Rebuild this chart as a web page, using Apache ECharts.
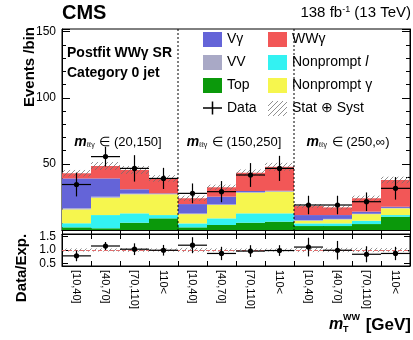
<!DOCTYPE html>
<html><head><meta charset="utf-8">
<script src="https://cdn.jsdelivr.net/npm/echarts@6/dist/echarts.min.js"></script>
<style>html,body{margin:0;padding:0;background:#fff}#c{width:413px;height:340px}</style>
</head><body><div id="c"></div>
<script>
const categories = ['[10,40]','[40,70]','[70,110]','110<','[10,40]','[40,70]','[70,110]','110<','[10,40]','[40,70]','[70,110]','110<'];
const topBkg       = [2.0, 1.3, 5.5, 8.8, 2.0, 3.8, 5.5, 6.3, 3.0, 3.0, 4.5, 10.0];
const nonpromptLep = [3.1, 10.0, 7.1, 2.5, 3.0, 5.0, 7.1, 6.3, 2.0, 2.0, 2.5, 1.3];
const nonpromptPho = [10.5, 13.1, 14.4, 15.7, 7.0, 10.1, 15.6, 16.4, 2.0, 3.0, 5.0, 5.1];
const vv           = [0.8, 0.8, 0.5, 0.3, 0.5, 0.5, 0.4, 0.3, 0.4, 0.4, 0.3, 0.3];
const vgamma       = [22.6, 13.8, 3.3, 0.4, 7.1, 5.8, 0.9, 0.4, 3.9, 2.9, 1.6, 0.9];
const wwgamma      = [3.9, 9.4, 14.6, 11.3, 4.4, 7.1, 13.8, 18.1, 6.8, 5.8, 10.1, 20.2];
const dataVals     = [34.4, 55.5, 46.6, 39.0, 27.7, 29.0, 41.6, 46.6, 18.9, 18.9, 21.4, 31.5];
const dataErr      = [9.0, 7.5, 10.0, 8.0, 7.5, 8.0, 9.0, 9.5, 7.0, 7.0, 7.0, 8.5];
const bandErr      = [2.5, 3.0, 3.0, 2.5, 2.0, 2.0, 2.5, 3.0, 1.5, 1.5, 2.0, 2.5];
const ratioVals    = [0.78, 1.15, 1.03, 0.99, 1.18, 0.87, 0.96, 0.98, 1.11, 0.99, 0.84, 0.87];
const ratioErr     = [0.2, 0.15, 0.22, 0.2, 0.3, 0.25, 0.22, 0.2, 0.35, 0.35, 0.3, 0.25];
const ratioBandErr = [0.06, 0.06, 0.07, 0.06, 0.08, 0.06, 0.06, 0.06, 0.08, 0.08, 0.08, 0.07];
const yTickLabels  = [50, 100, 150];
const ratioTicks   = [0.5, 1.0, 1.5];
const regionLabels = ['(20,150]', '(150,250]', '(250,∞)'];

const FF = 'Liberation Sans, Arial, Helvetica, sans-serif';
const totals = topBkg.map((v, i) => v + nonpromptLep[i] + nonpromptPho[i] + vv[i] + vgamma[i] + wwgamma[i]);

function makeHatch() {
  const c = document.createElement('canvas');
  c.width = 5; c.height = 5;
  const g = c.getContext('2d');
  g.strokeStyle = 'rgba(110,110,110,0.85)';
  g.lineWidth = 0.9;
  g.beginPath();
  g.moveTo(0, 5); g.lineTo(5, 0);
  g.moveTo(-1, 1); g.lineTo(1, -1);
  g.moveTo(4, 6); g.lineTo(6, 4);
  g.stroke();
  return c;
}
const hatch = { image: makeHatch(), repeat: 'repeat' };

function bandItem(params, api) {
  const i = api.value(0), c = api.value(1), e = api.value(2);
  const p1 = api.coord([i, c + e]);
  const p2 = api.coord([i, c - e]);
  const w = api.size([1, 0])[0];
  return { type: 'rect', shape: { x: p1[0] - w / 2, y: p1[1], width: w, height: p2[1] - p1[1] }, style: { fill: hatch } };
}
function errItem(params, api) {
  const i = api.value(0), v = api.value(1), e = api.value(2);
  const c = api.coord([i, v]);
  const hi = api.coord([i, v + e]);
  const lo = api.coord([i, v - e]);
  const w = api.size([1, 0])[0];
  const st = { stroke: '#000', lineWidth: 1.2 };
  return { type: 'group', children: [
    { type: 'line', shape: { x1: c[0] - w / 2, y1: c[1], x2: c[0] + w / 2, y2: c[1] }, style: st },
    { type: 'line', shape: { x1: c[0], y1: hi[1], x2: c[0], y2: lo[1] }, style: st },
    { type: 'circle', shape: { cx: c[0], cy: c[1], r: 2.6 }, style: { fill: '#000' } }
  ] };
}
function dividerItem(params, api) {
  const i = api.value(0);
  const p = api.coord([i, 0]);
  const w = api.size([1, 0])[0];
  const x = p[0] + w / 2;
  const cs = params.coordSys;
  return { type: 'line', shape: { x1: x, y1: cs.y, x2: x, y2: cs.y + cs.height }, style: { stroke: '#000', lineWidth: 1, lineDash: [2, 2] } };
}

const black = { color: '#000', width: 1 };
function catAxis(grid, pos, labels) {
  return {
    type: 'category', gridIndex: grid, position: pos, data: categories,
    axisLine: { show: true, lineStyle: black },
    axisTick: { show: true, inside: true, length: 5, alignWithLabel: false, interval: 0, lineStyle: black },
    axisLabel: labels ? { show: true, rotate: -90, interval: 0, margin: 4, fontSize: 11, color: '#000', fontFamily: FF } : { show: false },
    splitLine: { show: false }
  };
}

const barStyle = (name, data, color) => ({
  name, type: 'bar', stack: 'bkg', data, xAxisIndex: 0, yAxisIndex: 0,
  barWidth: '100%', barCategoryGap: '0%', itemStyle: { color }, emphasis: { disabled: true }, animation: false
});

const option = {
  animation: false,
  grid: [
    { left: 62, right: 3, top: 29, height: 201, show: true, borderColor: '#000', borderWidth: 1, backgroundColor: 'transparent' },
    { left: 62, right: 3, top: 234, height: 32, show: true, borderColor: '#000', borderWidth: 1, backgroundColor: 'transparent' }
  ],
  xAxis: [catAxis(0, 'bottom', false), catAxis(0, 'top', false), catAxis(1, 'bottom', true), catAxis(1, 'top', false)],
  yAxis: [
    { type: 'value', gridIndex: 0, position: 'left', min: 0, max: 152, interval: 50,
      axisLine: { show: true, lineStyle: black },
      axisTick: { show: true, inside: true, length: 8, lineStyle: black },
      minorTick: { show: true, splitNumber: 5, length: 4, lineStyle: black },
      axisLabel: { margin: 6, fontSize: 12, color: '#000', fontFamily: FF, formatter: v => yTickLabels.indexOf(v) >= 0 ? String(v) : '' },
      splitLine: { show: false } },
    { type: 'value', gridIndex: 0, position: 'right', min: 0, max: 152, interval: 50,
      axisLine: { show: true, lineStyle: black },
      axisTick: { show: true, inside: true, length: 8, lineStyle: black },
      minorTick: { show: true, splitNumber: 5, length: 4, lineStyle: black },
      axisLabel: { show: false }, splitLine: { show: false } },
    { type: 'value', gridIndex: 1, position: 'left', min: 0.4, max: 1.6,
      axisLine: { show: true, lineStyle: black },
      axisTick: { show: true, inside: true, length: 6, customValues: ratioTicks, lineStyle: black },
      axisLabel: { margin: 6, fontSize: 12, color: '#000', fontFamily: FF, customValues: ratioTicks, formatter: v => v.toFixed(1) },
      splitLine: { show: false } },
    { type: 'value', gridIndex: 1, position: 'right', min: 0.4, max: 1.6,
      axisLine: { show: true, lineStyle: black },
      axisTick: { show: true, inside: true, length: 6, customValues: ratioTicks, lineStyle: black },
      axisLabel: { show: false }, splitLine: { show: false } }
  ],
  legend: [
    { left: 203, top: 32, orient: 'vertical', itemWidth: 19, itemHeight: 15, itemGap: 8, padding: 0, selectedMode: false,
      textStyle: { fontSize: 14, color: '#000', fontFamily: FF },
      data: [{ name: 'Vγ', icon: 'rect' }, { name: 'VV', icon: 'rect' }, { name: 'Top', icon: 'rect' },
             { name: 'Data', icon: 'path://M0,9h20v1.6H0z M9.2,3h1.6v13.6h-1.6z', itemStyle: { color: '#000' } }] },
    { left: 268, top: 32, orient: 'vertical', itemWidth: 19, itemHeight: 15, itemGap: 8, padding: 0, selectedMode: false,
      textStyle: { fontSize: 14, color: '#000', fontFamily: FF, rich: { i: { fontSize: 14, fontStyle: 'italic', fontFamily: FF, color: '#000' } } },
      formatter: n => n === 'Nonprompt l' ? 'Nonprompt {i|l}' : n,
      data: [{ name: 'WWγ', icon: 'rect' }, { name: 'Nonprompt l', icon: 'rect' }, { name: 'Nonprompt γ', icon: 'rect' },
             { name: 'Stat ⊕ Syst', icon: 'rect', itemStyle: { color: hatch } }] }
  ],
  series: [
    barStyle('Top', topBkg, '#0b990b'),
    barStyle('Nonprompt l', nonpromptLep, '#33f2f2'),
    barStyle('Nonprompt γ', nonpromptPho, '#f6f64e'),
    barStyle('VV', vv, '#a9a9c6'),
    barStyle('Vγ', vgamma, '#6464d8'),
    barStyle('WWγ', wwgamma, '#f25757'),
    { name: 'Stat ⊕ Syst', type: 'custom', xAxisIndex: 0, yAxisIndex: 0, renderItem: bandItem,
      itemStyle: { color: hatch }, data: totals.map((t, i) => [i, t, bandErr[i]]), encode: { x: 0, y: 1 }, silent: true, z: 3 },
    { name: 'Data', type: 'custom', xAxisIndex: 0, yAxisIndex: 0, renderItem: errItem,
      itemStyle: { color: '#000' }, data: dataVals.map((v, i) => [i, v, dataErr[i]]), encode: { x: 0, y: 1 }, silent: true, z: 5 },
    { name: 'dividers', type: 'custom', xAxisIndex: 0, yAxisIndex: 0, renderItem: dividerItem,
      data: [[3, 0], [7, 0]], encode: { x: 0, y: 1 }, silent: true, z: 4 },
    { name: 'ratioBand', type: 'custom', xAxisIndex: 2, yAxisIndex: 2, renderItem: bandItem,
      data: ratioVals.map((v, i) => [i, 1, ratioBandErr[i]]), encode: { x: 0, y: 1 }, silent: true, z: 3,
      markLine: { silent: true, symbol: 'none', label: { show: false },
        lineStyle: { color: '#e07070', type: 'dashed', width: 1 }, data: [{ yAxis: 1 }] } },
    { name: 'Data/Exp.', type: 'custom', xAxisIndex: 2, yAxisIndex: 2, renderItem: errItem,
      data: ratioVals.map((v, i) => [i, v, ratioErr[i]]), encode: { x: 0, y: 1 }, silent: true, z: 5 }
  ],
  graphic: [
    { type: 'text', x: 62, y: 3, style: { text: 'CMS', font: 'bold 20px ' + FF, fill: '#000' } },
    { type: 'text', x: 411, y: 5, style: { text: '138 fb{sup|-1} (13 TeV)', font: '15px ' + FF, fill: '#000', align: 'right',
        rich: { sup: { fontSize: 9, verticalAlign: 'top', fontFamily: FF, padding: [0, 0, 6, 0] } } } },
    { type: 'text', x: 67, y: 46, style: { text: 'Postfit WWγ SR', font: 'bold 14px ' + FF, fill: '#000' } },
    { type: 'text', x: 67, y: 66, style: { text: 'Category 0 jet', font: 'bold 14px ' + FF, fill: '#000' } },
    ...regionLabels.map((r, k) => ({ type: 'text', x: [118, 234, 348][k], y: 142,
      style: { text: '{m|m}{s|ℓℓγ} ∈ ' + r, font: '13px ' + FF, fill: '#000', align: 'center', verticalAlign: 'middle',
        rich: { m: { fontSize: 14, fontStyle: 'italic', fontWeight: 'bold', fontFamily: FF }, s: { fontSize: 7, fontFamily: FF, padding: [7, 1, 0, 0] } } } })),
    { type: 'text', x: 30, y: 27, rotation: Math.PI / 2, style: { text: 'Events /bin', font: 'bold 15px ' + FF, fill: '#000', align: 'right', verticalAlign: 'middle' } },
    { type: 'text', x: 22, y: 268, rotation: Math.PI / 2, style: { text: 'Data/Exp.', font: 'bold 15px ' + FF, fill: '#000', align: 'center', verticalAlign: 'middle' } },
    { type: 'text', x: 329, y: 325, style: { text: 'm', font: 'italic bold 16px ' + FF, fill: '#000', verticalAlign: 'middle' } },
    { type: 'text', x: 343, y: 318, style: { text: 'WW', font: 'bold 9px ' + FF, fill: '#000', verticalAlign: 'middle' } },
    { type: 'text', x: 343, y: 330, style: { text: 'T', font: 'bold 9px ' + FF, fill: '#000', verticalAlign: 'middle' } },
    { type: 'text', x: 411, y: 325, style: { text: '[GeV]', font: 'bold 17px ' + FF, fill: '#000', align: 'right', verticalAlign: 'middle' } }
  ]
};
const chart = echarts.init(document.getElementById('c'), null, { renderer: 'canvas' });
chart.setOption(option);
</script>
</body></html>
